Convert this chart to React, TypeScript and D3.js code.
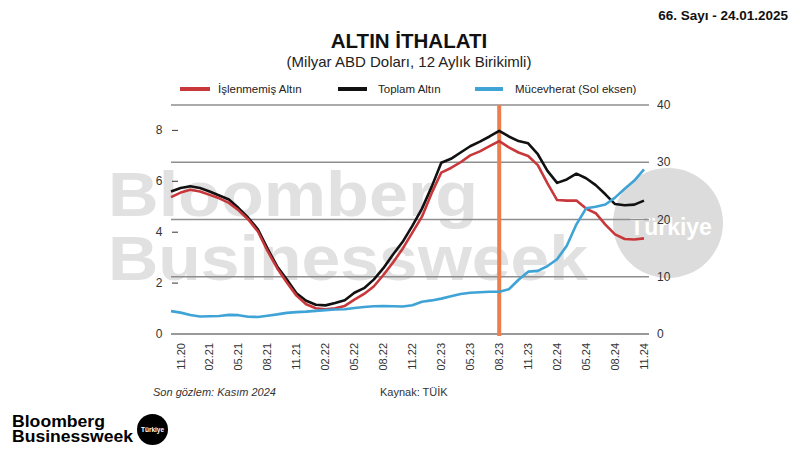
import React from "react";
import * as d3 from "d3";

const months: string[] = [
  "10.20", "11.20", "12.20",
  "01.21", "02.21", "03.21", "04.21", "05.21", "06.21", "07.21", "08.21", "09.21", "10.21", "11.21", "12.21",
  "01.22", "02.22", "03.22", "04.22", "05.22", "06.22", "07.22", "08.22", "09.22", "10.22", "11.22", "12.22",
  "01.23", "02.23", "03.23", "04.23", "05.23", "06.23", "07.23", "08.23", "09.23", "10.23", "11.23", "12.23",
  "01.24", "02.24", "03.24", "04.24", "05.24", "06.24", "07.24", "08.24", "09.24", "10.24", "11.24",
];

const tickLabels: string[] = [
  "11.20", "02.21", "05.21", "08.21", "11.21", "02.22", "05.22", "08.22", "11.22",
  "02.23", "05.23", "08.23", "11.23", "02.24", "05.24", "08.24", "11.24",
];

// Toplam Altın (right axis, billion USD)
const toplamAltin: number[] = [
  24.9, 25.5, 25.8, 25.5, 24.9, 24.2, 23.5, 22.0, 20.3, 18.3, 14.9, 11.8, 9.5, 7.1, 5.8,
  5.1, 5.0, 5.4, 5.9, 7.2, 8.0, 9.5, 11.5, 13.9, 16.1, 18.9, 21.9,
  25.7, 29.9, 30.6, 31.7, 32.8, 33.6, 34.5, 35.5, 34.5, 33.7, 33.3, 31.4,
  28.5, 26.4, 27.0, 28.0, 27.2, 26.0, 24.4, 22.7, 22.5, 22.6, 23.3,
];

// İşlenmemiş Altın (right axis)
const islenmemisAltin: number[] = [
  23.9, 24.7, 25.2, 24.9, 24.3, 23.7, 22.9, 21.6, 20.0, 17.9, 14.5, 11.5, 9.0, 6.7, 5.2,
  4.5, 4.3, 4.5, 4.9, 6.0, 7.0, 8.3, 10.3, 12.5, 14.9, 17.7, 20.5,
  24.6, 28.2, 29.0, 30.0, 31.2, 31.9, 32.8, 33.7, 32.6, 31.7, 31.1, 29.5,
  26.3, 23.4, 23.3, 23.3, 21.9, 21.1, 19.1, 17.4, 16.6, 16.5, 16.7,
];

// Mücevherat (left axis)
const mucevherat: number[] = [
  0.90, 0.84, 0.75, 0.69, 0.70, 0.71, 0.75, 0.74, 0.68, 0.67, 0.72, 0.77, 0.83, 0.86, 0.88,
  0.91, 0.94, 0.96, 0.97, 1.02, 1.06, 1.09, 1.10, 1.09, 1.08, 1.13, 1.27,
  1.32, 1.39, 1.48, 1.57, 1.62, 1.64, 1.66, 1.66, 1.76, 2.13, 2.45, 2.48,
  2.67, 2.94, 3.47, 4.31, 4.94, 5.00, 5.09, 5.36, 5.71, 6.03, 6.47,
];

const leftTicks: number[] = [0, 2, 4, 6, 8];
const rightTicks: number[] = [0, 10, 20, 30, 40];
const markerMonth = "08.23";

const FONT = "'Liberation Sans', Arial, Helvetica, sans-serif";

export default function App() {
  const x = d3.scalePoint<string>().domain(months).range([171, 644]);
  const yRight = d3.scaleLinear().domain([0, 40]).range([334, 105]);
  const yLeft = d3.scaleLinear().domain([0, 9]).range([334, 105]);

  const lineRight = d3
    .line<number>()
    .x((_, i) => x(months[i]) as number)
    .y((d) => yRight(d));
  const lineLeft = d3
    .line<number>()
    .x((_, i) => x(months[i]) as number)
    .y((d) => yLeft(d));

  const gridX0 = 171;
  const gridX1 = 649;
  const mx = x(markerMonth) as number;

  return (
    <svg
      width={800}
      height={450}
      style={{ position: "absolute", left: 0, top: 0, background: "#fff" }}
      fontFamily={FONT}
    >
      <rect x={0} y={0} width={800} height={450} fill="#fff" />

      {/* watermark */}
      <g fill="#e1e1e1" fontWeight="bold" fontSize={63}>
        <text x={108} y={216} textLength={370} lengthAdjust="spacingAndGlyphs">Bloomberg</text>
        <text x={108} y={280} textLength={480} lengthAdjust="spacingAndGlyphs">Businessweek</text>
      </g>
      <circle cx={668} cy={223} r={55} fill="#dcdcdc" />
      <text x={671} y={235} textAnchor="middle" fill="#fff" fontWeight="bold" fontSize={23}>Türkiye</text>

      {/* top right issue */}
      <text x={788} y={20} textAnchor="end" fontWeight="bold" fontSize={13.5} fill="#111">66. Sayı - 24.01.2025</text>

      {/* title */}
      <text x={409} y={48} textAnchor="middle" fontWeight="bold" fontSize={20.5} fill="#111">ALTIN İTHALATI</text>
      <text x={409} y={67} textAnchor="middle" fontSize={15} fill="#222">(Milyar ABD Doları, 12 Aylık Birikimli)</text>

      {/* legend */}
      <g fontSize={11.5} fill="#222">
        <line x1={180} x2={210} y1={89} y2={89} stroke="#c8383b" strokeWidth={4} />
        <text x={218} y={93}>İşlenmemiş Altın</text>
        <line x1={338} x2={367} y1={89} y2={89} stroke="#111" strokeWidth={4} />
        <text x={378} y={93}>Toplam Altın</text>
        <line x1={475} x2={503} y1={89} y2={89} stroke="#3fa3d6" strokeWidth={4} />
        <text x={515} y={93}>Mücevherat (Sol eksen)</text>
      </g>

      {/* gridlines (right axis) */}
      {rightTicks.map((t) => (
        <line key={"g" + t} x1={gridX0} x2={gridX1} y1={yRight(t)} y2={yRight(t)} stroke={t === 0 ? "#777" : "#8e8e8e"} strokeWidth={1.4} />
      ))}
      {/* right labels */}
      {rightTicks.map((t) => (
        <text key={"r" + t} x={657} y={yRight(t) + 4} fontSize={12} fill="#333">{t}</text>
      ))}
      {/* left labels */}
      {leftTicks.map((t) => (
        <g key={"l" + t}>
          <text x={159} y={yLeft(t) + 4} textAnchor="middle" fontSize={12} fill="#333">{t}</text>
          {t !== 0 && <line x1={172} x2={178} y1={yLeft(t)} y2={yLeft(t)} stroke="#555" strokeWidth={1.2} />}
        </g>
      ))}
      {/* x labels */}
      {tickLabels.map((m) => {
        const px = x(m) as number;
        return (
          <text key={"x" + m} transform={`translate(${px},343) rotate(-90)`} textAnchor="end" dy="0.35em" fontSize={11} fill="#333">{m}</text>
        );
      })}

      {/* marker line */}
      <line x1={mx} x2={mx} y1={105} y2={336} stroke="#ec7e4e" strokeWidth={4} />

      {/* series */}
      <path d={lineRight(toplamAltin) || ""} fill="none" stroke="#111" strokeWidth={2.6} strokeLinejoin="round" />
      <path d={lineRight(islenmemisAltin) || ""} fill="none" stroke="#c8383b" strokeWidth={2.6} strokeLinejoin="round" />
      <path d={lineLeft(mucevherat) || ""} fill="none" stroke="#3fa3d6" strokeWidth={2.6} strokeLinejoin="round" />

      {/* footer */}
      <text x={153} y={396} fontSize={11} fontStyle="italic" fill="#333">Son gözlem: Kasım 2024</text>
      <text x={380} y={396} fontSize={11} fill="#333">Kaynak: TÜİK</text>

      {/* logo */}
      <g fontWeight="bold" fill="#000" fontSize={17}>
        <text x={12} y={427} textLength={93} lengthAdjust="spacingAndGlyphs">Bloomberg</text>
        <text x={12} y={442} textLength={121} lengthAdjust="spacingAndGlyphs">Businessweek</text>
      </g>
      <circle cx={152.5} cy={429.5} r={15.5} fill="#000" />
      <text x={152.5} y={431.5} textAnchor="middle" fill="#fff" fontSize={6.5} fontWeight="bold">Türkiye</text>
    </svg>
  );
}
